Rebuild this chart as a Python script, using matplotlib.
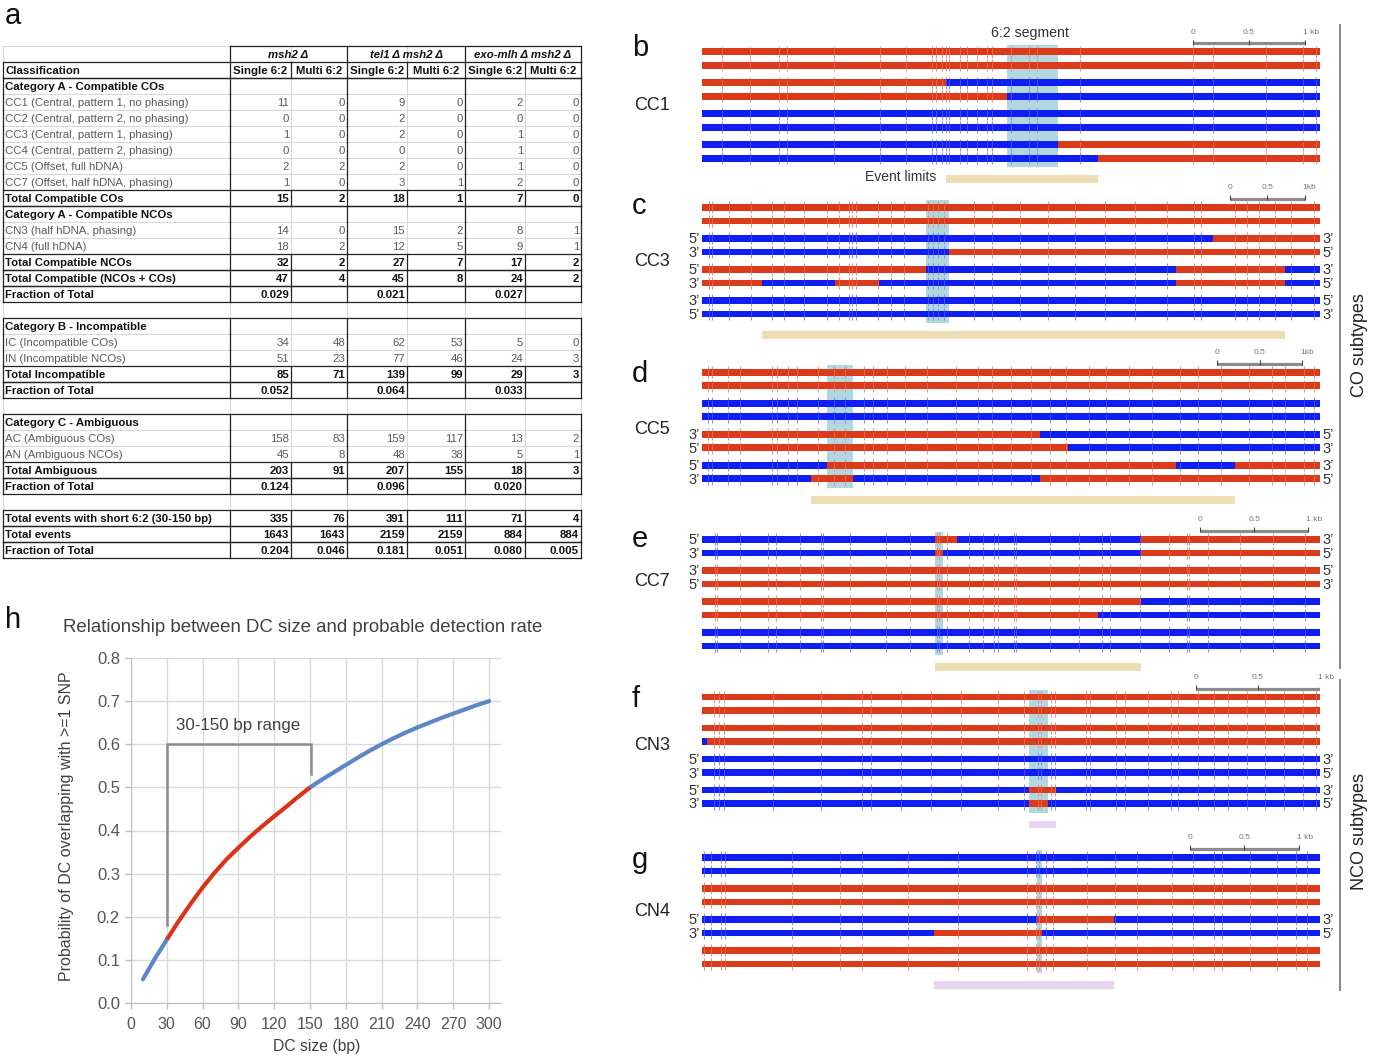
import matplotlib
matplotlib.use("Agg")
import matplotlib.pyplot as plt
from matplotlib.patches import Rectangle
import numpy as np

plt.rcParams['font.family'] = ['Liberation Sans', 'DejaVu Sans']

# ======================= DATA: panel a (table) =======================
genotypes = ["msh2 Δ", "tel1 Δ msh2 Δ", "exo-mlh Δ msh2 Δ"]
sub_headers = ["Single 6:2", "Multi 6:2"]
row_labels = [
    "Classification",
    "Category A - Compatible COs",
    "CC1 (Central, pattern 1, no phasing)",
    "CC2 (Central, pattern 2, no phasing)",
    "CC3 (Central, pattern 1, phasing)",
    "CC4 (Central, pattern 2, phasing)",
    "CC5 (Offset, full hDNA)",
    "CC7 (Offset, half hDNA, phasing)",
    "Total Compatible COs",
    "Category A - Compatible NCOs",
    "CN3 (half hDNA, phasing)",
    "CN4 (full hDNA)",
    "Total Compatible NCOs",
    "Total Compatible (NCOs + COs)",
    "Fraction of Total",
    "",
    "Category B - Incompatible",
    "IC (Incompatible COs)",
    "IN (Incompatible NCOs)",
    "Total Incompatible",
    "Fraction of Total",
    "",
    "Category C - Ambiguous",
    "AC (Ambiguous COs)",
    "AN (Ambiguous NCOs)",
    "Total Ambiguous",
    "Fraction of Total",
    "",
    "Total events with short 6:2 (30-150 bp)",
    "Total events",
    "Fraction of Total",
]
row_kinds = ["hdr", "cat", "data", "data", "data", "data", "data", "data", "total",
             "cat", "data", "data", "total", "total", "total", "blank",
             "cat", "data", "data", "total", "total", "blank",
             "cat", "data", "data", "total", "total", "blank",
             "total", "total", "total"]
msh2_single = ["", "", "11", "0", "1", "0", "2", "1", "15", "", "14", "18", "32", "47", "0.029", "",
               "", "34", "51", "85", "0.052", "", "", "158", "45", "203", "0.124", "", "335", "1643", "0.204"]
msh2_multi = ["", "", "0", "0", "0", "0", "2", "0", "2", "", "0", "2", "2", "4", "", "",
              "", "48", "23", "71", "", "", "", "83", "8", "91", "", "", "76", "1643", "0.046"]
tel1_single = ["", "", "9", "2", "2", "0", "2", "3", "18", "", "15", "12", "27", "45", "0.021", "",
               "", "62", "77", "139", "0.064", "", "", "159", "48", "207", "0.096", "", "391", "2159", "0.181"]
tel1_multi = ["", "", "0", "0", "0", "0", "0", "1", "1", "", "2", "5", "7", "8", "", "",
              "", "53", "46", "99", "", "", "", "117", "38", "155", "", "", "111", "2159", "0.051"]
exo_single = ["", "", "2", "0", "1", "1", "1", "2", "7", "", "8", "9", "17", "24", "0.027", "",
              "", "5", "24", "29", "0.033", "", "", "13", "5", "18", "0.020", "", "71", "884", "0.080"]
exo_multi = ["", "", "0", "0", "0", "0", "0", "0", "0", "", "1", "1", "2", "2", "", "",
             "", "0", "3", "3", "", "", "", "2", "1", "3", "", "", "4", "884", "0.005"]

# ======================= DATA: panels b-g (strands, kb) =======================
subtypes = ["CC1", "CC3", "CC5", "CC7", "CN3", "CN4"]
panel_letters = ["b", "c", "d", "e", "f", "g"]

b_len = 5.52
b_snps = [0.18, 0.43, 0.69, 0.76, 1.18, 1.59, 1.82, 2.05, 2.09, 2.14, 2.18, 2.21, 2.30, 2.37,
          2.46, 2.55, 2.59, 2.76, 2.92, 2.99, 3.38, 4.39, 4.56, 5.04, 5.37, 5.48]
b_strands = [("R", []), ("R", []), ("R", [2.18]), ("R", [2.725]),
             ("B", []), ("B", []), ("B", [3.18]), ("B", [3.54])]
b_seg62 = (2.725, 3.18)
b_event = (2.18, 3.54)
b_scale0 = 4.385

c_len = 8.26
c_snps = [0.09, 0.13, 0.36, 0.66, 0.94, 1.09, 1.36, 1.67, 1.83, 1.97, 2.01, 2.06, 2.35, 2.52,
          2.70, 3.02, 3.09, 3.15, 3.24, 3.64, 3.88, 4.25, 4.62, 4.99, 5.39, 5.79, 6.21, 6.58,
          6.67, 7.13, 7.29, 7.44, 7.66, 7.87, 8.18]
c_strands = [("R", []), ("R", []), ("B", [6.83]), ("B", [3.307]),
             ("R", [3.0, 6.34, 7.79]), ("R", [0.804, 1.773, 2.362, 6.34, 7.79]),
             ("B", []), ("B", [])]
c_seg62 = (3.0, 3.307)
c_event = (0.80, 7.79)
c_scale0 = 7.055

d_len = 7.29
d_snps = [0.07, 0.12, 0.31, 0.45, 0.83, 0.89, 1.02, 1.12, 1.37, 1.56, 1.69, 1.91, 2.02, 2.18,
          2.39, 2.66, 3.00, 3.26, 3.42, 3.64, 3.88, 4.10, 4.29, 4.56, 4.77, 5.04, 5.31, 5.64,
          5.85, 6.12, 6.45, 6.72, 6.88, 7.10, 7.22]
d_strands = [("R", []), ("R", []), ("B", []), ("B", []),
             ("R", [3.99]), ("R", [4.32]), ("B", [1.48, 5.59, 6.29]), ("B", [1.28, 1.78, 3.99])]
d_seg62 = (1.48, 1.78)
d_event = (1.28, 6.29)
d_scale0 = 6.08

e_len = 5.73
e_snps = [0.12, 0.14, 0.35, 0.61, 0.69, 0.91, 1.10, 1.12, 1.37, 1.71, 1.93, 2.18, 2.20, 2.27,
          2.48, 2.61, 2.71, 2.74, 2.89, 2.91, 3.23, 3.50, 3.71, 3.78, 4.06, 4.33, 4.50, 4.52,
          4.69, 4.99, 5.29, 5.59]
e_strands = [("B", [2.16, 2.36, 4.07]), ("B", [2.16, 2.23, 4.07]), ("R", []), ("R", []),
             ("R", [4.07]), ("R", [3.67]), ("B", []), ("B", [])]
e_seg62 = (2.16, 2.23)
e_event = (2.16, 4.07)
e_scale0 = 4.62

f_len = 4.97
f_snps = [0.10, 0.14, 0.18, 0.57, 0.96, 1.29, 1.36, 1.60, 1.84, 2.08, 2.38, 2.59, 2.70, 2.73,
          2.81, 2.84, 3.09, 3.12, 3.33, 3.40, 3.59, 3.77, 3.83, 3.99, 4.12, 4.23, 4.38, 4.53,
          4.68, 4.83, 4.94]
f_strands = [("R", []), ("R", []), ("R", []), ("B", [0.04]),
             ("B", []), ("B", []), ("B", [2.63, 2.85]), ("B", [2.63, 2.78])]
f_seg62 = (2.63, 2.78)
f_event = (2.63, 2.85)
f_scale0 = 3.97

g_len = 5.64
g_snps = [0.02, 0.08, 0.17, 0.21, 0.82, 1.26, 1.46, 1.88, 2.34, 2.97, 3.05, 3.08, 3.14, 3.20,
          3.51, 3.77, 3.97, 4.29, 4.48, 4.67, 4.75, 5.00, 5.25, 5.42, 5.52]
g_strands = [("B", []), ("B", []), ("R", []), ("R", []),
             ("B", [3.06, 3.76]), ("B", [2.12, 3.10]), ("R", []), ("R", [])]
g_seg62 = (3.06, 3.10)
g_event = (2.12, 3.76)
g_scale0 = 4.45

P5, P3 = "5\u2019", "3\u2019"
b_ends_left = [""] * 8
b_ends_right = [""] * 8
c_ends_left = ["", "", P5, P3, P5, P3, P3, P5]
c_ends_right = ["", "", P3, P5, P3, P5, P5, P3]
d_ends_left = ["", "", "", "", P3, P5, P5, P3]
d_ends_right = ["", "", "", "", P5, P3, P3, P5]
e_ends_left = [P5, P3, P3, P5, "", "", "", ""]
e_ends_right = [P3, P5, P5, P3, "", "", "", ""]
f_ends_left = ["", "", "", "", P5, P3, P5, P3]
f_ends_right = ["", "", "", "", P3, P5, P3, P5]
g_ends_left = ["", "", "", "", P5, P3, "", ""]
g_ends_right = ["", "", "", "", P3, P5, "", ""]
scale_labels = ["1 kb", "1kb", "1kb", "1 kb", "1 kb", "1 kb"]

# ======================= DATA: panel h =======================
dc_size = np.array([10, 20, 30, 40, 50, 60, 70, 80, 90, 100, 110, 120, 130, 140, 150,
                    160, 170, 180, 190, 200, 210, 220, 230, 240, 250, 260, 270, 280, 290, 300])
prob = np.array([0.055, 0.103, 0.147, 0.190, 0.230, 0.268, 0.302, 0.333, 0.360, 0.386,
                 0.410, 0.433, 0.455, 0.478, 0.500, 0.518, 0.535, 0.552, 0.569, 0.585,
                 0.600, 0.614, 0.627, 0.639, 0.650, 0.661, 0.671, 0.681, 0.691, 0.700])
range_lo, range_hi = 30, 150

# ======================= FIGURE =======================
W, H = 1380, 1061
fig = plt.figure(figsize=(W / 100, H / 100), dpi=100)


def px_axes(left, top, width, height):
    return fig.add_axes([left / W, 1 - (top + height) / H, width / W, height / H])


ax0 = fig.add_axes([0, 0, 1, 1])
ax0.set_xlim(0, W)
ax0.set_ylim(H, 0)
ax0.axis('off')

# ---------------- table ----------------
col_x = [3, 230, 291, 347, 407, 465, 525, 581]
ROW_H = 16
HDR_TOP = 46
BODY_TOP = 62
nrows = len(row_labels)
LIGHT = '#D6D6D6'
TFS = 8.2
cols_vals = [msh2_single, msh2_multi, tel1_single, tel1_multi, exo_single, exo_multi]

for x in col_x:
    ax0.plot([x, x], [HDR_TOP, BODY_TOP + nrows * ROW_H], color=LIGHT, lw=0.7, zorder=1)
for i in range(nrows + 2):
    y = HDR_TOP + i * ROW_H
    ax0.plot([col_x[0], col_x[-1]], [y, y], color=LIGHT, lw=0.7, zorder=1)

BLK = dict(color='#222222', lw=0.9, zorder=2)
ax0.plot([col_x[1], col_x[-1]], [HDR_TOP, HDR_TOP], **BLK)
for x in (col_x[1], col_x[3], col_x[5], col_x[7]):
    ax0.plot([x, x], [HDR_TOP, BODY_TOP], **BLK)
for k, g in enumerate(genotypes):
    xc = (col_x[1 + 2 * k] + col_x[3 + 2 * k]) / 2
    ax0.text(xc, HDR_TOP + ROW_H / 2 + 1.5, g, ha='center', va='center', fontsize=TFS,
             fontweight='bold', fontstyle='italic', color='#111111')

for i, (lab, kind) in enumerate(zip(row_labels, row_kinds)):
    top = BODY_TOP + i * ROW_H
    bot = top + ROW_H
    yc = top + ROW_H / 2 + 1.5
    if kind == 'blank':
        continue
    vx = [col_x[0], col_x[1], col_x[3], col_x[5], col_x[7]]
    if kind in ('hdr', 'total'):
        vx = col_x
    for x in vx:
        ax0.plot([x, x], [top, bot], **BLK)
    prev = row_kinds[i - 1] if i > 0 else 'blank'
    nxt = row_kinds[i + 1] if i + 1 < nrows else 'blank'
    if kind in ('hdr', 'total') or (kind == 'cat' and prev in ('blank', 'total', 'hdr')):
        ax0.plot([col_x[0], col_x[-1]], [top, top], **BLK)
    if kind in ('hdr', 'total') or nxt == 'blank':
        ax0.plot([col_x[0], col_x[-1]], [bot, bot], **BLK)
    bold = kind in ('hdr', 'cat', 'total')
    tcol = '#111111' if bold else '#5a5a5a'
    ax0.text(col_x[0] + 2, yc, lab, ha='left', va='center', fontsize=TFS,
             fontweight='bold' if bold else 'normal', color=tcol)
    for j, vals in enumerate(cols_vals):
        if kind == 'hdr':
            ax0.text((col_x[j + 1] + col_x[j + 2]) / 2, yc, sub_headers[j % 2], ha='center',
                     va='center', fontsize=TFS, fontweight='bold', color='#111111')
        elif vals[i]:
            ax0.text(col_x[j + 2] - 2, yc, vals[i], ha='right', va='center', fontsize=TFS,
                     fontweight='bold' if bold else 'normal', color=tcol)

# ---------------- strand panels ----------------
RED, BLUE = '#DB3B1B', '#0F1EF2'
RED_T, BLUE_T = '#F0907E', '#8A90FA'
SHADE = '#B1D8E0'
WHEAT, LAV = '#EEDDB5', '#E6D5EE'
STRAND_X0, STRAND_X1 = 702, 1320
ROW_OFF = [0, 13.5, 31, 44.5, 62, 75.5, 93, 106.5]
PAD_TOP, PAD_BOT = 30, 34
first_strand_y = [51.7, 207.3, 372.3, 539.3, 697.0, 857.3]
letter_base_y = [56, 214, 382, 547, 707, 868]
subtype_y = [106, 262, 429, 582, 745, 912]

panels = [
    (b_len, b_snps, b_strands, b_seg62, b_event, WHEAT, b_scale0, b_ends_left, b_ends_right),
    (c_len, c_snps, c_strands, c_seg62, c_event, WHEAT, c_scale0, c_ends_left, c_ends_right),
    (d_len, d_snps, d_strands, d_seg62, d_event, WHEAT, d_scale0, d_ends_left, d_ends_right),
    (e_len, e_snps, e_strands, e_seg62, e_event, WHEAT, e_scale0, e_ends_left, e_ends_right),
    (f_len, f_snps, f_strands, f_seg62, f_event, LAV, f_scale0, f_ends_left, f_ends_right),
    (g_len, g_snps, g_strands, g_seg62, g_event, LAV, g_scale0, g_ends_left, g_ends_right),
]


def segments(start, breaks, L):
    bounds = [0] + list(breaks) + [L]
    out = []
    c = start
    for a, b in zip(bounds[:-1], bounds[1:]):
        out.append((a, b, RED if c == 'R' else BLUE))
        c = 'B' if c == 'R' else 'R'
    return out


for pi, (L, snps, strands, seg62, event, evc, scale0, lefts, rights) in enumerate(panels):
    top_y = first_strand_y[pi]
    h = PAD_TOP + ROW_OFF[-1] + PAD_BOT
    ax = px_axes(STRAND_X0, top_y - PAD_TOP, STRAND_X1 - STRAND_X0, h)
    ax.set_xlim(0, L)
    ax.set_ylim(h, 0)
    ax.axis('off')
    ys = [PAD_TOP + o for o in ROW_OFF]
    ax.add_patch(Rectangle((seg62[0], ys[0] - 7), seg62[1] - seg62[0], ys[-1] - ys[0] + 16,
                           facecolor=SHADE, edgecolor='none', zorder=1))
    for y, (start, brks), lft, rgt in zip(ys, strands, lefts, rights):
        sg = segments(start, brks, L)
        ax.broken_barh([(a, b - a) for a, b, c in sg], (y - 3.3, 6.6),
                       facecolors=[c for a, b, c in sg], edgecolor='none', zorder=3)
        tcols = []
        for s in snps:
            col = sg[-1][2]
            for a, b, c in sg:
                if a <= s < b:
                    col = c
                    break
            tcols.append(RED_T if col == RED else BLUE_T)
        ax.vlines(snps, y - 6, y + 6, colors=tcols, lw=0.8, zorder=2)
        ax.vlines(snps, y - 3.3, y + 3.3, colors='white', alpha=0.3, lw=0.5, zorder=4)
        if lft:
            ax.annotate(lft, (0, y), xytext=(-2, -1), textcoords='offset pixels', ha='right',
                        va='center', fontsize=10.5, color='#333333', annotation_clip=False)
        if rgt:
            ax.annotate(rgt, (L, y), xytext=(2, -1), textcoords='offset pixels', ha='left',
                        va='center', fontsize=10.5, color='#333333', annotation_clip=False)
    yb = ys[0] - 8.5
    ax.plot([scale0, scale0 + 1], [yb, yb], color='#8C8C8C', lw=2.3, solid_capstyle='butt', zorder=3)
    ax.vlines([scale0, scale0 + 0.5, scale0 + 1], yb - 3.5, yb + 1.5, colors='#444444', lw=0.8, zorder=4)
    ax.text(scale0, yb - 11, "0", ha='center', va='center', fontsize=6, color='#777777')
    ax.text(scale0 + 0.5, yb - 11, "0.5", ha='center', va='center', fontsize=6, color='#777777')
    ax.annotate(scale_labels[pi], (scale0 + 1, yb - 11), xytext=(-2, 0), textcoords='offset pixels',
                ha='left', va='center', fontsize=6, color='#777777', annotation_clip=False)
    ax.add_patch(Rectangle((event[0], ys[-1] + 21 - 3.8), event[1] - event[0], 7.6,
                           facecolor=evc, edgecolor='none', zorder=1))
    ax0.text(634, subtype_y[pi], subtypes[pi], ha='left', va='center', fontsize=13, color='#222222')
    ax0.text(632, letter_base_y[pi], panel_letters[pi], ha='left', va='baseline', fontsize=21,
             color='#111111')

ax0.text(1030, 33, "6:2 segment", ha='center', va='center', fontsize=10.2, color='#333333')
ax0.text(936, 177, "Event limits", ha='right', va='center', fontsize=10, color='#333333')

ax0.plot([1340, 1340], [25, 668], color='#8C8C8C', lw=1.5)
ax0.plot([1340, 1340], [680, 990], color='#8C8C8C', lw=1.5)
ax0.text(1359, 345, "CO subtypes", rotation=90, ha='center', va='center', fontsize=13, color='#222222')
ax0.text(1359, 832, "NCO subtypes", rotation=90, ha='center', va='center', fontsize=13, color='#222222')

ax0.text(5, 24, "a", ha='left', va='baseline', fontsize=21, color='#111111')
ax0.text(5, 628, "h", ha='left', va='baseline', fontsize=21, color='#111111')

# ---------------- panel h ----------------
HBLUE, HRED = '#5D86C8', '#DC3318'
GRAYTXT = '#404040'
axh = px_axes(131, 658, 370, 345)
axh.set_xlim(0, 310)
axh.set_ylim(0, 0.8)
m1 = dc_size <= range_lo
m2 = (dc_size >= range_lo) & (dc_size <= range_hi)
m3 = dc_size >= range_hi
axh.plot(dc_size[m1], prob[m1], color=HBLUE, lw=3, solid_capstyle='round', zorder=3)
axh.plot(dc_size[m3], prob[m3], color=HBLUE, lw=3, solid_capstyle='round', zorder=3)
axh.plot(dc_size[m2], prob[m2], color=HRED, lw=3, solid_capstyle='butt', zorder=4)
axh.set_xticks(np.arange(0, 301, 30))
axh.set_yticks(np.round(np.arange(0, 0.81, 0.1), 1))
axh.set_yticklabels([f"{v:.1f}" for v in np.arange(0, 0.81, 0.1)])
axh.grid(True, color='#D9D9D9', lw=1)
axh.set_axisbelow(True)
for s in ('top', 'right'):
    axh.spines[s].set_visible(False)
for s in ('left', 'bottom'):
    axh.spines[s].set_color('#BFBFBF')
axh.tick_params(axis='both', colors='#BFBFBF', labelcolor='#555555', length=4, width=1)
axh.tick_params(axis='x', labelsize=11.5, pad=6)
axh.tick_params(axis='y', labelsize=12, pad=4)
axh.plot([range_lo, range_lo, range_hi + 1, range_hi + 1], [0.18, 0.60, 0.60, 0.53],
         color='#8C8C8C', lw=1.8, zorder=2, solid_joinstyle='miter')
axh.text((range_lo + range_hi) / 2, 0.643, f"{range_lo}-{range_hi} bp range", ha='center',
         va='center', fontsize=12.2, color=GRAYTXT)
ax0.text(63, 627, "Relationship between DC size and probable detection rate", ha='left',
         va='center', fontsize=13.4, color=GRAYTXT)
ax0.text(67, 826, "Probability of DC overlapping with >=1 SNP", rotation=90, ha='center',
         va='center', fontsize=11.5, color=GRAYTXT)
ax0.text(317, 1047, "DC size (bp)", ha='center', va='center', fontsize=11.3, color=GRAYTXT)

fig.savefig("out.png", dpi=100)
